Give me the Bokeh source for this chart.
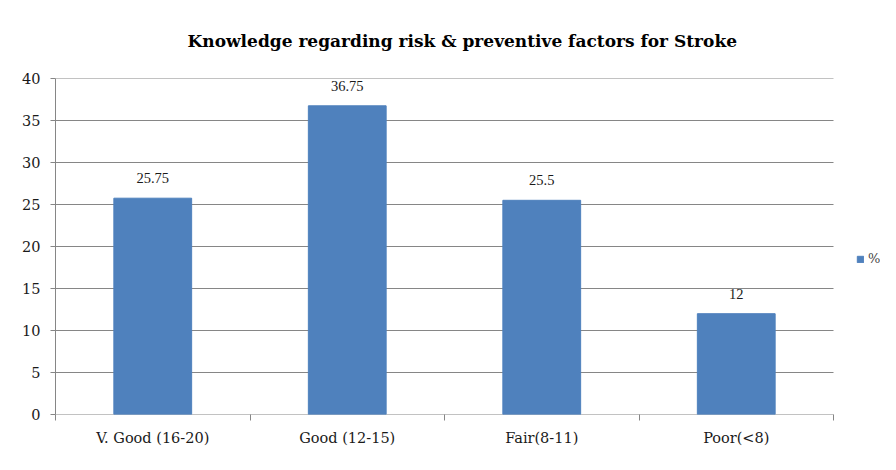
from bokeh.plotting import figure
from bokeh.models import ColumnDataSource, FixedTicker, LabelSet, Legend, LegendItem, Range1d, Title
from bokeh.embed import file_html
from bokeh.resources import INLINE

categories = ["V. Good (16-20)", "Good (12-15)", "Fair(8-11)", "Poor(<8)"]
values = [25.75, 36.75, 25.5, 12]
value_labels = ["25.75", "36.75", "25.5", "12"]
y_ticks = [0, 5, 10, 15, 20, 25, 30, 35, 40]
series_name = "%"

FONT = "DejaVu Serif"
GRID = "#868686"
n = len(categories)
xs = [i + 0.5 for i in range(n)]
src = ColumnDataSource(dict(x=xs, top=values, lab=value_labels))

# frame spans to the right edge so the legend can sit beside the bars;
# the category area [0, n] occupies 778 of the 825 px frame
FRAME_W, CAT_W = 825, 778
x_end = n * FRAME_W / CAT_W

p = figure(width=880, height=454, output_backend="svg", toolbar_location=None,
           x_range=Range1d(0, x_end), y_range=Range1d(0, 40),
           min_border_left=55, min_border_right=0, min_border_top=77, min_border_bottom=40)
p.outline_line_color = None
p.xgrid.grid_line_color = None
p.ygrid.grid_line_color = None

# horizontal gridlines limited to the category area
p.segment(x0=[0] * len(y_ticks), x1=[n] * len(y_ticks), y0=y_ticks, y1=y_ticks,
          line_color=GRID, line_width=1)

r = p.vbar(x="x", top="top", width=0.4, source=src, fill_color="#4F81BD", line_color="#4F81BD")

lbl = LabelSet(x="x", y="top", text="lab", source=src, text_align="center", text_baseline="bottom",
               y_offset=15, text_font=FONT, text_font_size="14.5px", text_color="#1a1a1a")
p.add_layout(lbl)

p.xaxis.ticker = FixedTicker(ticks=xs, minor_ticks=list(range(n + 1)))
p.xaxis.major_label_overrides = {x: c for x, c in zip(xs, categories)}
p.xaxis.major_tick_line_color = None
p.xaxis.minor_tick_out = 6
p.xaxis.minor_tick_in = 0
p.xaxis.minor_tick_line_color = GRID
p.xaxis.axis_line_color = None
p.xaxis.major_label_standoff = 9

p.yaxis.ticker = FixedTicker(ticks=y_ticks)
p.yaxis.minor_tick_line_color = None
p.yaxis.major_tick_out = 5
p.yaxis.major_tick_in = 0
p.yaxis.major_tick_line_color = GRID
p.yaxis.axis_line_color = GRID
p.yaxis.major_label_standoff = 10

for ax in (p.xaxis, p.yaxis):
    ax.major_label_text_font = FONT
    ax.major_label_text_font_size = "14.5px"
    ax.major_label_text_color = "#1a1a1a"

p.title = Title(text="Knowledge regarding risk & preventive factors for Stroke", align="left",
                text_font=FONT, text_font_size="17px", text_font_style="bold", text_color="#000000",
                offset=132, standoff=56)

legend = Legend(items=[LegendItem(label=series_name, renderers=[r])], location=(801, 148),
                border_line_color=None, background_fill_alpha=0, padding=0, margin=0,
                glyph_width=8, glyph_height=8, label_text_font=FONT, label_text_font_size="13px",
                label_standoff=4)
p.add_layout(legend)

open("out.html", "w").write(file_html(p, INLINE))
